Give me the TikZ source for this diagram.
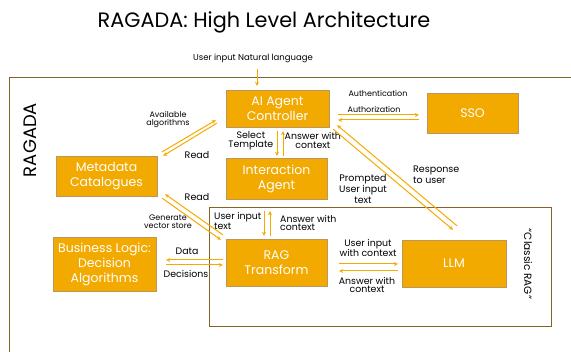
\documentclass[tikz,border=0pt]{standalone}
\usepackage{fontspec}
\setmainfont{Poppins}
\usetikzlibrary{arrows.meta}
\definecolor{boxfill}{RGB}{242,169,0}
\definecolor{boxline}{RGB}{190,150,90}
\definecolor{framecol}{RGB}{130,100,40}
\definecolor{linkcol}{RGB}{245,170,0}

\begin{document}
\begin{tikzpicture}[x=1pt,y=-1pt,>={Stealth[length=4pt,width=4pt]},
    block/.style={draw=boxline,fill=boxfill,text=white,align=center,inner sep=0pt,font=\fontsize{12.5}{15}\selectfont},
    link/.style={draw=linkcol,line width=1pt},
    lbl/.style={inner sep=0pt,align=center,font=\fontsize{9.4}{8.6}\selectfont},
    small lbl/.style={lbl,font=\fontsize{8}{8}\selectfont}]

    \useasboundingbox (0,0) rectangle (571,352);
    \clip (0,0) rectangle (571,352);

    \node[inner sep=0pt,font=\fontsize{20.8}{24}\selectfont] (title) at (264,22) {RAGADA: High Level Architecture};

    \draw[framecol,line width=1pt] (9,78) rectangle (600,400);
    \draw[framecol,line width=1pt] (209,208) rectangle (551,327);
    \node[inner sep=0pt,rotate=90,font=\fontsize{18}{20}\selectfont] (ragada) at (30,140) {RAGADA};
    \node[inner sep=0pt,rotate=-90,font=\fontsize{10.5}{12}\selectfont] (classic) at (528,264) {“Classic RAG”};

    \node[block,minimum width=103,minimum height=37] (ctrl) at (277.5,108.5) {AI Agent\\Controller};
    \node[block,minimum width=91,minimum height=40] (sso) at (472.5,113) {SSO};
    \node[block,minimum width=101,minimum height=41] (inter) at (276.5,178.5) {Interaction\\Agent};
    \node[block,minimum width=101,minimum height=40] (meta) at (106.5,176) {Metadata\\Catalogues};
    \node[block,minimum width=103,minimum height=54] (biz) at (104.5,264) {Business Logic:\\Decision\\Algorithms};
    \node[block,minimum width=101,minimum height=47] (rag) at (276.5,262.5) {RAG\\Transform};
    \node[block,minimum width=104,minimum height=47] (llm) at (454,263.5) {LLM};

    \node[lbl,font=\fontsize{8.5}{8.5}\selectfont] (usr) at (253,58) {User input Natural language};
    \draw[link,->] ([shift={(4,6)}]usr.south) -- ([shift={(4,-4)}]usr.south |- ctrl.north);

    \node[lbl,font=\fontsize{8}{8}\selectfont] (authn) at (378,93) {Authentication};
    \node[lbl,font=\fontsize{8}{8}\selectfont] (authz) at (374,109) {Authorization};
    \draw[link,->] ([shift={(9,6.5)}]ctrl.east) -- ([shift={(-8,2)}]sso.west);
    \draw[link,->] ([shift={(-8,7)}]sso.west) -- ([shift={(9,11.5)}]ctrl.east);

    \node[lbl,anchor=east] (sel) at (273.5,140.5) {Select\\Template};
    \node[lbl,anchor=west] (ans1) at (284.5,140.5) {Answer with\\context};
    \draw[link,->] ([shift={(-0.5,4)}]ctrl.south) -- ([shift={(0.5,-2)}]inter.north);
    \draw[link,->] ([shift={(6.5,-2)}]inter.north) -- ([shift={(5.5,4)}]ctrl.south);

    \node[small lbl] (avail) at (168,120) {Available\\algorithms};
    \node[lbl,font=\fontsize{9.5}{10}\selectfont] (read1) at (197,155) {Read};
    \draw[link,->] ([shift={(5,-4)}]meta.north east) -- ([shift={(-10,-7)}]ctrl.south west);
    \draw[link,->] ([shift={(-9,-4)}]ctrl.south west) -- ([shift={(6,0)}]meta.north east);

    \node[small lbl] (gen) at (168,222) {Generate\\vector store};
    \node[lbl,font=\fontsize{9.5}{10}\selectfont] (read2) at (197,197) {Read};
    \draw[link,->] ([shift={(-3,-4)}]rag.north west) -- ([shift={(8,-2)}]meta.south east);
    \draw[link,->] ([shift={(5,2)}]meta.south east) -- ([shift={(-5,1)}]rag.north west);

    \node[lbl] (data) at (187,251) {Data};
    \node[lbl] (dec) at (186,274) {Decisions};
    \draw[link,->] ([shift={(-3,-2.5)}]rag.west) -- ([shift={(10,-4)}]biz.east);
    \draw[link,->] ([shift={(10,1)}]biz.east) -- ([shift={(-3,2.5)}]rag.west);

    \node[lbl,anchor=west,align=left] (uit) at (214,221) {User input\\text};
    \node[lbl,anchor=west,align=left] (ans2) at (280,223) {Answer with\\context};
    \draw[link,->] ([shift={(-12.5,12)}]inter.south) -- ([shift={(-12.5,-3)}]rag.north);
    \draw[link,->] ([shift={(-6.5,-3)}]rag.north) -- ([shift={(-6.5,12)}]inter.south);

    \node[lbl] (uwc) at (368,248) {User input\\with context};
    \node[lbl] (ans3) at (367,285) {Answer with\\context};
    \draw[link,->] ([shift={(12,1.5)}]rag.east) -- ([shift={(-4,0.5)}]llm.west);
    \draw[link,->] ([shift={(-4,7.5)}]llm.west) -- ([shift={(12,8.5)}]rag.east);

    \node[lbl,font=\fontsize{9.5}{11}\selectfont] (prompt) at (363,189) {Prompted\\User input\\text};
    \node[lbl,anchor=west,align=left,font=\fontsize{9.5}{11}\selectfont] (resp) at (413,175) {Response\\to user};
    \draw[link,->] ([shift={(3,-14)}]llm.north) -- ([shift={(8,-2)}]ctrl.south east);
    \draw[link,->] ([shift={(4,2)}]ctrl.south east) -- ([shift={(-1,-10)}]llm.north);
\end{tikzpicture}
\end{document}
